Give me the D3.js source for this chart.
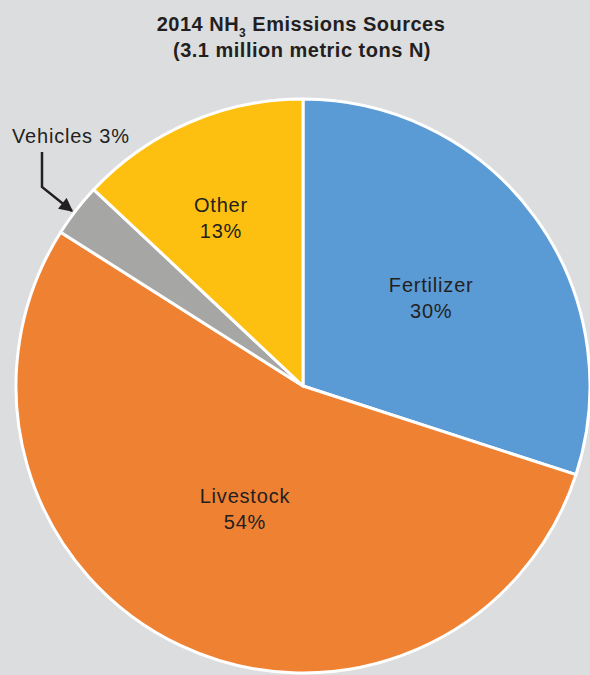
<!DOCTYPE html>
<html>
<head>
<meta charset="utf-8">
<script src="https://cdn.jsdelivr.net/npm/d3@7"></script>
<style>
  body { margin: 0; background: #dcdddf; }
  svg { display: block; font-family: "Liberation Sans", Arial, sans-serif; }
</style>
</head>
<body>
<div class="pie"></div>
<script>
var svgWidth = 590;
var svgHeight = 675;

// data
var sources = ["Fertilizer", "Livestock", "Vehicles", "Other"];
var shares = [30, 54, 3, 13];
var colors = ["#5b9bd5", "#ef8133", "#a6a6a5", "#fdc010"];

var cx = 303, cy = 386, radius = 287;
var ink = "#231f20";

var svg = d3.select(".pie")
  .append("svg")
  .attr("width", svgWidth)
  .attr("height", svgHeight);

// title
var title = svg.append("text")
  .attr("x", 301)
  .attr("y", 31)
  .attr("text-anchor", "middle")
  .attr("font-size", 20)
  .attr("font-weight", "bold")
  .attr("letter-spacing", 0.5)
  .attr("fill", ink);
title.append("tspan").text("2014 NH");
title.append("tspan").attr("font-size", 12).attr("dy", 6).text("3");
title.append("tspan").attr("dy", -6).text(" Emissions Sources");

svg.append("text")
  .attr("x", 302)
  .attr("y", 57)
  .attr("text-anchor", "middle")
  .attr("font-size", 20)
  .attr("font-weight", "bold")
  .attr("letter-spacing", 0.5)
  .attr("fill", ink)
  .text("(3.1 million metric tons N)");

var data = sources.map(function(s, i) {
  return { name: s, value: shares[i], color: colors[i] };
});

var pie = d3.pie()
  .sort(null)
  .value(d => d.value);

var arc = d3.arc()
  .innerRadius(0)
  .outerRadius(radius);

var chartGroup = svg.append("g")
  .attr("transform", `translate(${cx}, ${cy})`);

var arcs = pie(data);

chartGroup.selectAll("path")
  .data(arcs)
  .enter()
  .append("path")
  .attr("d", arc)
  .attr("fill", d => d.data.color)
  .attr("stroke", "#ffffff")
  .attr("stroke-width", 3)
  .attr("stroke-linejoin", "round");

// label distance from the centre and a small nudge, per slice
var labelPlace = {
  "Fertilizer": { r: 156, dx: 2, dy: 2 },
  "Livestock": { r: 134, dx: -1, dy: 0 },
  "Other": { r: 189, dx: -7, dy: 3 }
};

arcs.forEach(function(d) {
  var p = labelPlace[d.data.name];
  if (!p) return;
  var c = d3.arc().innerRadius(p.r).outerRadius(p.r).centroid(d);
  var x = c[0] + p.dx, y = c[1] + p.dy;
  var t = chartGroup.append("text")
    .attr("text-anchor", "middle")
    .attr("font-size", 20)
    .attr("letter-spacing", 0.8)
    .attr("fill", ink);
  t.append("tspan").attr("x", x).attr("y", y - 4).text(d.data.name);
  t.append("tspan").attr("x", x).attr("y", y + 22).text(d.data.value + "%");
});

// vehicles callout
svg.append("defs").append("marker")
  .attr("id", "head")
  .attr("viewBox", "0 0 10 10")
  .attr("refX", 9)
  .attr("refY", 5)
  .attr("markerWidth", 6)
  .attr("markerHeight", 5.5)
  .attr("markerUnits", "strokeWidth")
  .attr("orient", "auto")
  .append("path")
  .attr("d", "M0,0 L10,5 L0,10 z")
  .attr("fill", ink);

svg.append("text")
  .attr("x", 12)
  .attr("y", 143)
  .attr("font-size", 20)
  .attr("letter-spacing", 0.8)
  .attr("fill", ink)
  .text(sources[2] + " " + shares[2] + "%");

svg.append("path")
  .attr("d", "M42,152 L42,187 L72,211")
  .attr("fill", "none")
  .attr("stroke", ink)
  .attr("stroke-width", 2.5)
  .attr("marker-end", "url(#head)");
</script>
</body>
</html>
